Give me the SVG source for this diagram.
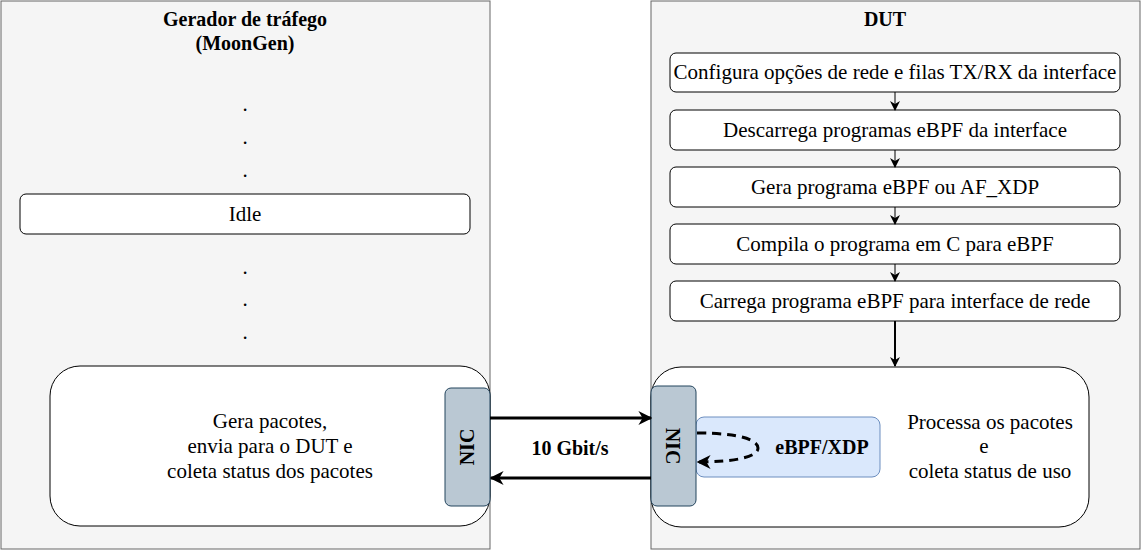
<svg xmlns="http://www.w3.org/2000/svg" width="1142" height="552" viewBox="0 0 1142 552">
<style>
.cont{fill:#f5f5f5;stroke:#666666;stroke-width:1}
.box{fill:#ffffff;stroke:#000000;stroke-width:1}
.nic{fill:#bac8d3;stroke:#23445d;stroke-width:1}
.xdp{fill:#dae8fc;stroke:#6c8ebf;stroke-width:1}
text{font-family:'Liberation Serif','Times New Roman',serif;font-size:21px;fill:#000;text-anchor:middle}
.b{font-weight:bold;font-size:20px}
.ln{stroke:#000;fill:none}
</style>
<defs>
<marker id="ah" viewBox="0 0 10 10" refX="9" refY="5" markerWidth="10" markerHeight="10" markerUnits="userSpaceOnUse" orient="auto">
<path d="M0,0 L10,5 L0,10 L3,5 Z" fill="#000"/>
</marker>
<marker id="ahb" viewBox="0 0 10 10" refX="9" refY="5" markerWidth="14" markerHeight="14" markerUnits="userSpaceOnUse" orient="auto">
<path d="M0,0 L10,5 L0,10 L3,5 Z" fill="#000"/>
</marker>
</defs>
<g id="gerador">
<rect class="cont" x="1" y="1" width="489" height="548"/>
<text class="b" x="245" y="26">Gerador de tráfego</text>
<text class="b" x="245" y="50">(MoonGen)</text>
<text x="245" y="111">.</text>
<text x="245" y="144">.</text>
<text x="245" y="177">.</text>
<text x="245" y="274">.</text>
<text x="245" y="306">.</text>
<text x="245" y="339">.</text>
</g>
<g id="idle">
<rect class="box" x="20" y="194" width="450" height="40" rx="6"/>
<text x="245" y="221">Idle</text>
</g>
<g id="gera">
<rect class="box" x="50" y="366" width="440" height="160" rx="30"/>
<text x="270" y="428">Gera pacotes,</text>
<text x="270" y="453">envia para o DUT e</text>
<text x="270" y="478">coleta status dos pacotes</text>
</g>
<g id="nic-left">
<rect class="nic" x="445" y="388" width="45" height="118" rx="6"/>
<text class="b" transform="translate(474,447) rotate(-90)">NIC</text>
</g>
<g id="dut">
<rect class="cont" x="651" y="1" width="489" height="548"/>
<text class="b" x="885" y="26">DUT</text>
</g>
<g id="s1">
<rect class="box" x="670" y="53" width="450" height="39" rx="6"/>
<text x="895" y="79">Configura opções de rede e filas TX/RX da interface</text>
</g>
<g id="s2">
<rect class="box" x="670" y="110" width="450" height="40" rx="6"/>
<text x="895" y="137">Descarrega programas eBPF da interface</text>
</g>
<g id="s3">
<rect class="box" x="670" y="167" width="450" height="40" rx="6"/>
<text x="895" y="194">Gera programa eBPF ou AF_XDP</text>
</g>
<g id="s4">
<rect class="box" x="670" y="224" width="450" height="40" rx="6"/>
<text x="895" y="251">Compila o programa em C para eBPF</text>
</g>
<g id="s5">
<rect class="box" x="670" y="281" width="450" height="40" rx="6"/>
<text x="895" y="308">Carrega programa eBPF para interface de rede</text>
</g>
<g id="processa">
<rect class="box" x="651" y="367" width="438" height="160" rx="30"/>
<text x="990" y="429">Processa os pacotes</text>
<text x="984" y="453">e</text>
<text x="990" y="478">coleta status de uso</text>
</g>
<g id="xdp">
<rect class="xdp" x="696" y="417" width="184" height="60" rx="8"/>
<text class="b" x="822" y="454">eBPF/XDP</text>
</g>
<g id="nic-right">
<rect class="nic" x="651" y="386" width="45" height="120" rx="6"/>
<text class="b" transform="translate(666,446) rotate(90)">NIC</text>
</g>
<g id="connectors">
<line class="ln" x1="895" y1="92" x2="895" y2="110" marker-end="url(#ah)"/>
<line class="ln" x1="895" y1="150" x2="895" y2="167" marker-end="url(#ah)"/>
<line class="ln" x1="895" y1="207" x2="895" y2="224" marker-end="url(#ah)"/>
<line class="ln" x1="895" y1="264" x2="895" y2="281" marker-end="url(#ah)"/>
<line class="ln" x1="895" y1="321" x2="895" y2="366" stroke-width="2" marker-end="url(#ah)"/>
<line class="ln" x1="490" y1="418" x2="651" y2="418" stroke-width="3" marker-end="url(#ahb)"/>
<line class="ln" x1="651" y1="478" x2="491" y2="478" stroke-width="3" marker-end="url(#ahb)"/>
<path class="ln" d="M697,433 C740,433 758,440 758,448 C758,458 730,462 698,462" stroke-width="3" stroke-dasharray="9,6" marker-end="url(#ahb)"/>
<text class="b" x="570" y="455">10 Gbit/s</text>
</g>
</svg>
